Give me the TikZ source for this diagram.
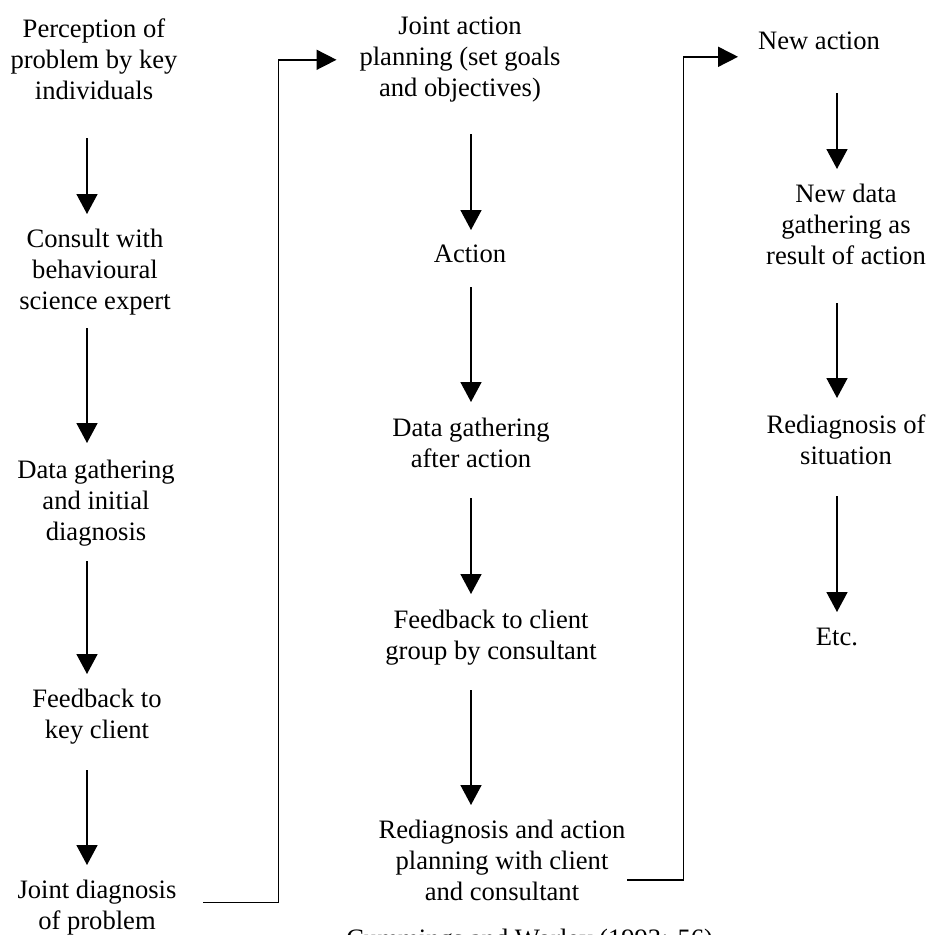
\documentclass[tikz,border=0pt]{standalone}
\usepackage{fontspec}
\setmainfont{Liberation Serif}
\usetikzlibrary{arrows.meta,calc}
% centred multi-line label with fixed strut-based line spacing
\newcommand\stack[1]{\begin{tabular}{@{}c@{}}#1\end{tabular}}
\begin{document}
\begin{tikzpicture}[x=1pt,y=-1pt,
  every node/.style={inner sep=0pt, outer sep=0pt, font=\fontsize{26.6}{31}\selectfont},
  stage/.style={anchor=north},
  flow/.style={line width=1.6pt, -{Triangle[width=21pt,length=20pt]}},
  link/.style={line width=1.6pt, -{Triangle[width=20pt,length=20pt]}}]
\clip (0,0) rectangle (930,935);
\fill[white] (0,0) rectangle (930,935);

% column axes for the vertical arrows
\coordinate (c1) at (87,0);
\coordinate (c2) at (471,0);
\coordinate (c3) at (837,0);

% first column
\node[stage] (p1) at (94,15.3)  {\stack{Perception of\\problem by key\\individuals}};
\node[stage] (p2) at (95,225.3) {\stack{Consult with\\behavioural\\science expert}};
\node[stage] (p3) at (96,456.3) {\stack{Data gathering\\and initial\\diagnosis}};
\node[stage] (p4) at (97,685.3) {\stack{Feedback to\\key client}};
\node[stage] (p5) at (97,876.3) {\stack{Joint diagnosis\\of problem}};

% second column
\node[stage] (q1) at (460,12.3)  {\stack{Joint action\\planning (set goals\\and objectives)}};
\node[stage] (q2) at (470,240.3) {\stack{Action}};
\node[stage] (q3) at (471,414.3) {\stack{Data gathering\\after action}};
\node[stage] (q4) at (491,606.3) {\stack{Feedback to client\\group by consultant}};
\node[stage] (q5) at (502,816.3) {\stack{Rediagnosis and action\\planning with client\\and consultant}};

% third column
\node[stage] (r1) at (819,27.3)  {\stack{New action}};
\node[stage] (r2) at (846,180.3) {\stack{New data\\gathering as\\result of action}};
\node[stage] (r3) at (846,411.3) {\stack{Rediagnosis of\\situation}};
\node[stage] (r4) at (837,623.3) {\stack{Etc.}};

% downward steps within each column
\foreach \a/\b/\c/\s/\e in {
  p1/p2/c1/29.7/11.3, p2/p3/c1/9.7/13.3, p3/p4/c1/11.7/11.3, p4/p5/c1/22.7/11.3,
  q1/q2/c2/28.7/10.3, q2/q3/c2/15.7/12.3, q3/q4/c2/21.7/12.3, q4/q5/c2/21.7/11.3,
  r1/r2/c3/34.7/11.3, r2/r3/c3/29.7/13.3, r3/r4/c3/22.7/11.3}
  \draw[flow] ($(\a.south -| \c)+(0,\s)$) -- ($(\b.north -| \c)+(0,-\e)$);

% links from the foot of one column to the head of the next
\draw[link] ($(p5.east)+(27,-5)$) -- ++(75,0) |- ($(q1.west)+(-23,1)$);
\draw[link] ($(q5.east)+(2,17)$) -- ++(56,0) |- ($(r1.west)+(-20,14)$);

% source line
\node[anchor=base east] (src) at (713,947) {Cummings and Worley (1993: 56)};
\end{tikzpicture}
\end{document}
